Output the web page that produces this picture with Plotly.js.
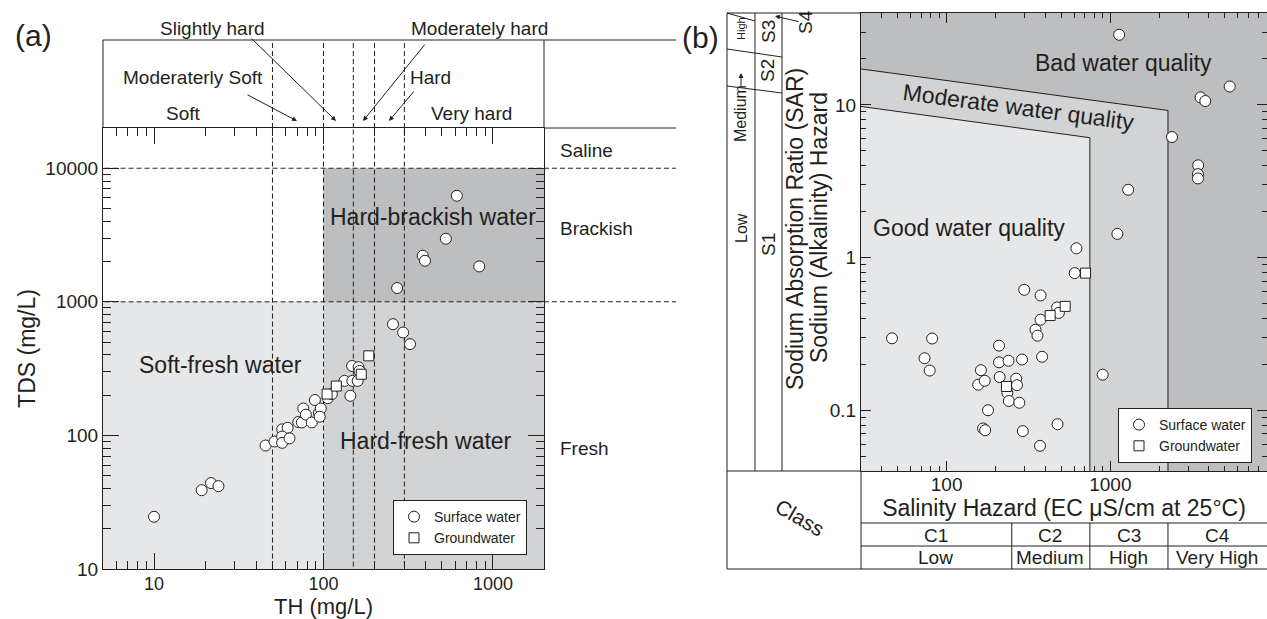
<!DOCTYPE html>
<html>
<head>
<meta charset="utf-8">
<script src="https://cdn.plot.ly/plotly-3.0.1.min.js"></script>
<style>
html,body{margin:0;padding:0;background:#ffffff;}
#chart{width:1267px;height:619px;}
</style>
</head>
<body>
<div id="chart"></div>
<script>
// ---------------- DATA ----------------
// Panel (a): TH vs TDS (mg/L)
const surfaceTH  = [10, 19.1, 21.7, 24, 45.5, 51.4, 57.1, 61.4, 57, 57, 63, 71, 74.5, 76, 78.7, 85.2, 89, 94, 96.4, 95, 106, 112, 133, 148, 144, 147.5, 161, 163, 159, 257, 295, 324, 612, 527, 385, 397, 830, 272];
const surfaceTDS = [24.6, 38.9, 44, 41.7, 84, 90, 111, 114, 98, 88, 95, 126, 125, 159, 143, 125, 184, 147, 159, 138, 190, 204, 256, 256, 198, 331, 324, 304, 256, 680, 589, 482, 6220, 2967, 2213, 2028, 1840, 1268];
const groundTH   = [105, 119, 167, 185];
const groundTDS  = [204, 234, 287, 394];

// Panel (b): EC vs SAR
const surfaceEC  = [46.4, 81.6, 73.3, 78.8, 162, 156, 171, 209, 209, 239, 289, 211, 266, 269, 235, 240, 278, 179, 167, 172, 292, 372, 476, 383, 298, 375, 349, 359, 375, 473, 485, 621, 606, 898, 1104, 1285, 1132, 5360, 3560, 3800, 2380, 3440, 3430, 3430];
const surfaceSAR = [0.296, 0.295, 0.219, 0.182, 0.183, 0.147, 0.156, 0.265, 0.206, 0.211, 0.215, 0.165, 0.161, 0.146, 0.130, 0.115, 0.112, 0.100, 0.076, 0.074, 0.073, 0.0585, 0.081, 0.224, 0.615, 0.565, 0.337, 0.308, 0.392, 0.472, 0.434, 1.15, 0.791, 0.171, 1.43, 2.78, 28.8, 13.2, 11.2, 10.6, 6.16, 4.02, 3.52, 3.30];
const groundEC   = [232, 429, 530, 706];
const groundSAR  = [0.143, 0.417, 0.479, 0.791];

// Classification boundaries
const hardnessBounds = [50, 100, 150, 200, 300];   // TH (mg/L)
const salinityBounds = [1000, 10000];              // TDS (mg/L)
const ecClassBounds  = [250, 750, 2250];           // EC class limits
const goodLine     = {ec: [30, 750],  sar: [9.77, 6.1]};
const moderateLine = {ec: [30, 2250], sar: [17.2, 9.2]};

// Tick labels
const aXTicks = [10, 100, 1000];
const aYTicks = [10, 100, 1000, 10000];
const bXTicks = [100, 1000];
const bYTicks = [0.1, 1, 10];
const bYTickText = ['0.1', '1', '10'];

const hardnessLabels = ['Soft', 'Moderaterly Soft', 'Slightly hard', 'Moderately hard', 'Hard', 'Very hard'];
const salinityLabels = ['Fresh', 'Brackish', 'Saline'];
const classNames = ['C1', 'C2', 'C3', 'C4'];
const classLevels = ['Low', 'Medium', 'High', 'Very High'];

// ---------------- LAYOUT HELPERS ----------------
const W = 1267, H = 619;
const INK = '#231f20';
const LIGHT = '#e6e7e8', MID = '#d1d3d4', DARK = '#bcbec0';
const DASH = '5px,3px';
const FONT = 'Liberation Sans, Arial, Helvetica, sans-serif';
const RA = 676; // right end of panel (a) side column
const fx = p => p / W;
const fy = p => 1 - p / H;

function minorTicks(lo, hi) {
  const out = [];
  for (let d = lo; d < hi; d *= 10) {
    for (let m = 2; m <= 9; m++) out.push(+(d * m).toPrecision(3));
  }
  return out;
}
function pline(x0, y0, x1, y1, extra) {
  return Object.assign({type: 'line', xref: 'paper', yref: 'paper',
    x0: fx(x0), y0: fy(y0), x1: fx(x1), y1: fy(y1),
    line: {color: INK, width: 1}, layer: 'above'}, extra || {});
}
function label(x, y, text, size, opts) {
  return Object.assign({xref: 'paper', yref: 'paper', x: fx(x), y: fy(y), text: text,
    showarrow: false, xanchor: 'center', yanchor: 'middle',
    font: {size: size, color: INK, family: FONT}}, opts || {});
}
function arrow(hx, hy, tx, ty) {
  return {xref: 'paper', yref: 'paper', x: fx(hx), y: fy(hy), ax: tx - hx, ay: ty - hy,
    text: '', showarrow: true, arrowhead: 2, arrowsize: 1, arrowwidth: 1,
    arrowcolor: INK, standoff: 0, startstandoff: 0};
}

// ---------------- TRACES ----------------
const circ = {symbol: 'circle', size: 11, color: '#ffffff', line: {color: INK, width: 1}};
const sq = {symbol: 'square', size: 10, color: '#ffffff', line: {color: INK, width: 1}};
const traces = [
  {x: surfaceTH, y: surfaceTDS, xaxis: 'x', yaxis: 'y', mode: 'markers', marker: circ,
   name: 'Surface water', legend: 'legend', hoverinfo: 'skip'},
  {x: groundTH, y: groundTDS, xaxis: 'x', yaxis: 'y', mode: 'markers', marker: sq,
   name: 'Groundwater', legend: 'legend', hoverinfo: 'skip'},
  {x: surfaceEC, y: surfaceSAR, xaxis: 'x2', yaxis: 'y2', mode: 'markers', marker: circ,
   name: 'Surface water', legend: 'legend2', hoverinfo: 'skip'},
  {x: groundEC, y: groundSAR, xaxis: 'x2', yaxis: 'y2', mode: 'markers', marker: sq,
   name: 'Groundwater', legend: 'legend2', hoverinfo: 'skip'}
];

// ---------------- SHAPES ----------------
const shapes = [];
// Panel (a) zones
shapes.push({type: 'rect', xref: 'x', yref: 'y', x0: 1, x1: 100, y0: 1, y1: salinityBounds[0], fillcolor: LIGHT, line: {width: 0}, layer: 'below'});
shapes.push({type: 'rect', xref: 'x', yref: 'y', x0: 100, x1: 1e5, y0: 1, y1: salinityBounds[0], fillcolor: MID, line: {width: 0}, layer: 'below'});
shapes.push({type: 'rect', xref: 'x', yref: 'y', x0: 100, x1: 1e5, y0: salinityBounds[0], y1: salinityBounds[1], fillcolor: DARK, line: {width: 0}, layer: 'below'});
hardnessBounds.forEach(v => {
  shapes.push({type: 'line', xref: 'x', yref: 'y', x0: v, x1: v, y0: 1, y1: 1e6, line: {color: INK, width: 1, dash: DASH}, layer: 'below'});
  shapes.push({type: 'line', xref: 'x', yref: 'paper', x0: v, x1: v, y0: fy(128), y1: fy(40), line: {color: INK, width: 1, dash: DASH}, layer: 'above'});
});
salinityBounds.forEach(v => {
  shapes.push({type: 'line', xref: 'x', yref: 'y', x0: 1, x1: 1e5, y0: v, y1: v, line: {color: INK, width: 1, dash: DASH}, layer: 'below'});
  shapes.push({type: 'line', xref: 'paper', yref: 'y', x0: fx(544), x1: fx(RA), y0: v, y1: v, line: {color: INK, width: 1, dash: DASH}, layer: 'above'});
});
// Panel (a) header frame
shapes.push(pline(103, 40, RA, 40));
shapes.push(pline(103, 40, 103, 128));
shapes.push(pline(544, 40, 544, 128));
shapes.push(pline(544, 128, RA, 128));

// Panel (b) zones
shapes.push({type: 'rect', xref: 'x2', yref: 'y2', x0: 1, x1: 1e6, y0: 1e-4, y1: 1e4, fillcolor: DARK, line: {width: 0}, layer: 'below'});
shapes.push({type: 'path', xref: 'x2', yref: 'y2',
  path: `M ${moderateLine.ec[0]},0.0001 L ${moderateLine.ec[0]},${moderateLine.sar[0]} L ${moderateLine.ec[1]},${moderateLine.sar[1]} L ${moderateLine.ec[1]},0.0001 Z`,
  fillcolor: MID, line: {width: 0}, layer: 'below'});
shapes.push({type: 'path', xref: 'x2', yref: 'y2',
  path: `M ${goodLine.ec[0]},0.0001 L ${goodLine.ec[0]},${goodLine.sar[0]} L ${goodLine.ec[1]},${goodLine.sar[1]} L ${goodLine.ec[1]},0.0001 Z`,
  fillcolor: LIGHT, line: {width: 0}, layer: 'below'});
shapes.push({type: 'path', xref: 'x2', yref: 'y2',
  path: `M ${moderateLine.ec[0]},${moderateLine.sar[0]} L ${moderateLine.ec[1]},${moderateLine.sar[1]} L ${moderateLine.ec[1]},0.0001`,
  fillcolor: 'rgba(0,0,0,0)', line: {color: INK, width: 1}, layer: 'below'});
shapes.push({type: 'path', xref: 'x2', yref: 'y2',
  path: `M ${goodLine.ec[0]},${goodLine.sar[0]} L ${goodLine.ec[1]},${goodLine.sar[1]} L ${goodLine.ec[1]},0.0001`,
  fillcolor: 'rgba(0,0,0,0)', line: {color: INK, width: 1}, layer: 'below'});

// Panel (b) frame, S-class columns and class table
shapes.push(pline(727, 13, 727, 569));
shapes.push(pline(727, 13, 861, 13));
shapes.push(pline(755, 13, 755, 471));
shapes.push(pline(782, 13, 782, 471));
shapes.push(pline(727, 471, 861, 471));
shapes.push(pline(861, 471, 861, 569));
shapes.push(pline(861, 523, 1267, 523));
shapes.push(pline(861, 546, 1267, 546));
shapes.push(pline(727, 569, 1267, 569));
shapes.push(pline(727, 86, 782, 93));
shapes.push(pline(727, 49, 782, 57));
shapes.push(pline(727, 13, 755, 21));
ecClassBounds.forEach(v => {
  shapes.push({type: 'line', xref: 'x2', yref: 'paper', x0: v, x1: v, y0: fy(523), y1: fy(569), line: {color: INK, width: 1}, layer: 'above'});
});

// ---------------- ANNOTATIONS ----------------
const ann = [];
ann.push(label(33, 36, '(a)', 30));
ann.push(label(700, 38, '(b)', 30));
// hardness header
ann.push(label(183, 113, hardnessLabels[0], 19));
ann.push(label(193, 78, hardnessLabels[1], 19));
ann.push(label(212, 28, hardnessLabels[2], 19));
ann.push(label(479, 28, hardnessLabels[3], 19));
ann.push(label(430, 78, hardnessLabels[4], 19));
ann.push(label(471, 113, hardnessLabels[5], 19));
ann.push(arrow(297, 121, 246, 94));
ann.push(arrow(336, 121, 250, 37));
ann.push(arrow(363, 121, 426, 43));
ann.push(arrow(389, 121, 415, 90));
// salinity side labels
ann.push(label(558, 448, salinityLabels[0], 19, {xanchor: 'left'}));
ann.push(label(558, 229, salinityLabels[1], 19, {xanchor: 'left'}));
ann.push(label(558, 150, salinityLabels[2], 19, {xanchor: 'left'}));
// zones (a)
ann.push(label(433, 217, 'Hard-brackish water', 23));
ann.push(label(220, 365, 'Soft-fresh water', 23));
ann.push(label(426, 441, 'Hard-fresh water', 23));
// zones (b)
ann.push(label(1123, 63, 'Bad water quality', 23));
ann.push(label(1018, 107, 'Moderate water quality', 23, {textangle: 7.5}));
ann.push(label(969, 228, 'Good water quality', 23));
// SAR axis titles
ann.push(label(795, 229, 'Sodium Absorption Ratio (SAR)', 23, {textangle: -90}));
ann.push(label(819, 228, 'Sodium (Alkalinity) Hazard', 23, {textangle: -90}));
// S classes
ann.push(label(741, 228, 'Low', 16, {textangle: -90}));
ann.push(label(741, 114, 'Medium', 16, {textangle: -90}));
ann.push(label(741, 29, 'High', 11, {textangle: -90}));
ann.push(arrow(741, 73, 741, 88));
ann.push(label(768, 245, 'S1', 19, {textangle: -90}));
ann.push(label(768, 71, 'S2', 19, {textangle: -90}));
ann.push(label(768, 32, 'S3', 19, {textangle: -90}));
ann.push(label(806, 22, 'S4', 19, {textangle: -90}));
ann.push(arrow(775, 16, 800, 22));
// class table
ann.push(label(800, 517, 'Class', 21, {textangle: 30}));
const classCenters = [935.5, 1050, 1128.5, 1217];
classNames.forEach((t, i) => ann.push(label(classCenters[i], 535, t, 19)));
classLevels.forEach((t, i) => ann.push(label(classCenters[i], 557, t, 19)));

// ---------------- AXES ----------------
function logAxis(o) {
  return Object.assign({
    type: 'log', showline: true, linecolor: INK, linewidth: 1, mirror: 'ticks',
    ticks: 'inside', tickcolor: INK, tickwidth: 1, showgrid: false, zeroline: false,
    tickmode: 'array', tickfont: {size: 19, color: INK, family: FONT}, automargin: false
  }, o);
}

const legendStyle = {bgcolor: '#ffffff', bordercolor: INK, borderwidth: 1,
  font: {size: 14, family: FONT, color: INK}, itemwidth: 30, tracegroupgap: 0};

const layout = {
  width: W, height: H,
  margin: {l: 0, r: 0, t: 0, b: 0, pad: 0},
  paper_bgcolor: '#ffffff', plot_bgcolor: 'rgba(0,0,0,0)',
  font: {family: FONT, size: 18, color: INK},
  showlegend: true,
  xaxis: logAxis({domain: [fx(103), fx(544)], anchor: 'y',
    range: [Math.log10(5), Math.log10(2000)], tickvals: aXTicks, ticktext: aXTicks.map(String), ticklen: 16,
    tickfont: {size: 18, color: INK, family: FONT}, ticklabelstandoff: -2,
    minor: {tickvals: minorTicks(1, 10000), ticklen: 8, ticks: 'inside', tickcolor: INK, showgrid: false},
    title: {text: 'TH (mg/L)', font: {size: 22, family: FONT, color: INK}, standoff: 8}}),
  yaxis: logAxis({domain: [fy(569), fy(128)], anchor: 'x',
    range: [1, Math.log10(20000)], tickvals: aYTicks, ticktext: aYTicks.map(String), ticklen: 16,
    minor: {tickvals: minorTicks(10, 100000), ticklen: 8, ticks: 'inside', tickcolor: INK, showgrid: false},
    title: {text: 'TDS (mg/L)', font: {size: 23, family: FONT, color: INK}, standoff: 3}}),
  xaxis2: logAxis({domain: [fx(861), 1], anchor: 'y2',
    range: [Math.log10(30), 3.957], tickvals: bXTicks, ticktext: bXTicks.map(String), ticklen: 10,
    ticklabelstandoff: -4,
    minor: {tickvals: minorTicks(10, 100000), ticklen: 5, ticks: 'inside', tickcolor: INK, showgrid: false},
    title: {text: 'Salinity Hazard (EC μS/cm at 25°C)', font: {size: 23, family: FONT, color: INK}, standoff: 1}}),
  yaxis2: logAxis({domain: [fy(471), fy(13)], anchor: 'x2',
    range: [Math.log10(0.04), Math.log10(40)], tickvals: bYTicks, ticktext: bYTickText, ticklen: 10,
    minor: {tickvals: minorTicks(0.01, 100), ticklen: 5, ticks: 'inside', tickcolor: INK, showgrid: false}}),
  legend: Object.assign({x: fx(527), xanchor: 'right', y: fy(500), yanchor: 'top'}, legendStyle),
  legend2: Object.assign({x: fx(1252), xanchor: 'right', y: fy(408), yanchor: 'top'}, legendStyle),
  shapes: shapes,
  annotations: ann
};

Plotly.newPlot('chart', traces, layout, {staticPlot: true, displayModeBar: false});
</script>
</body>
</html>
